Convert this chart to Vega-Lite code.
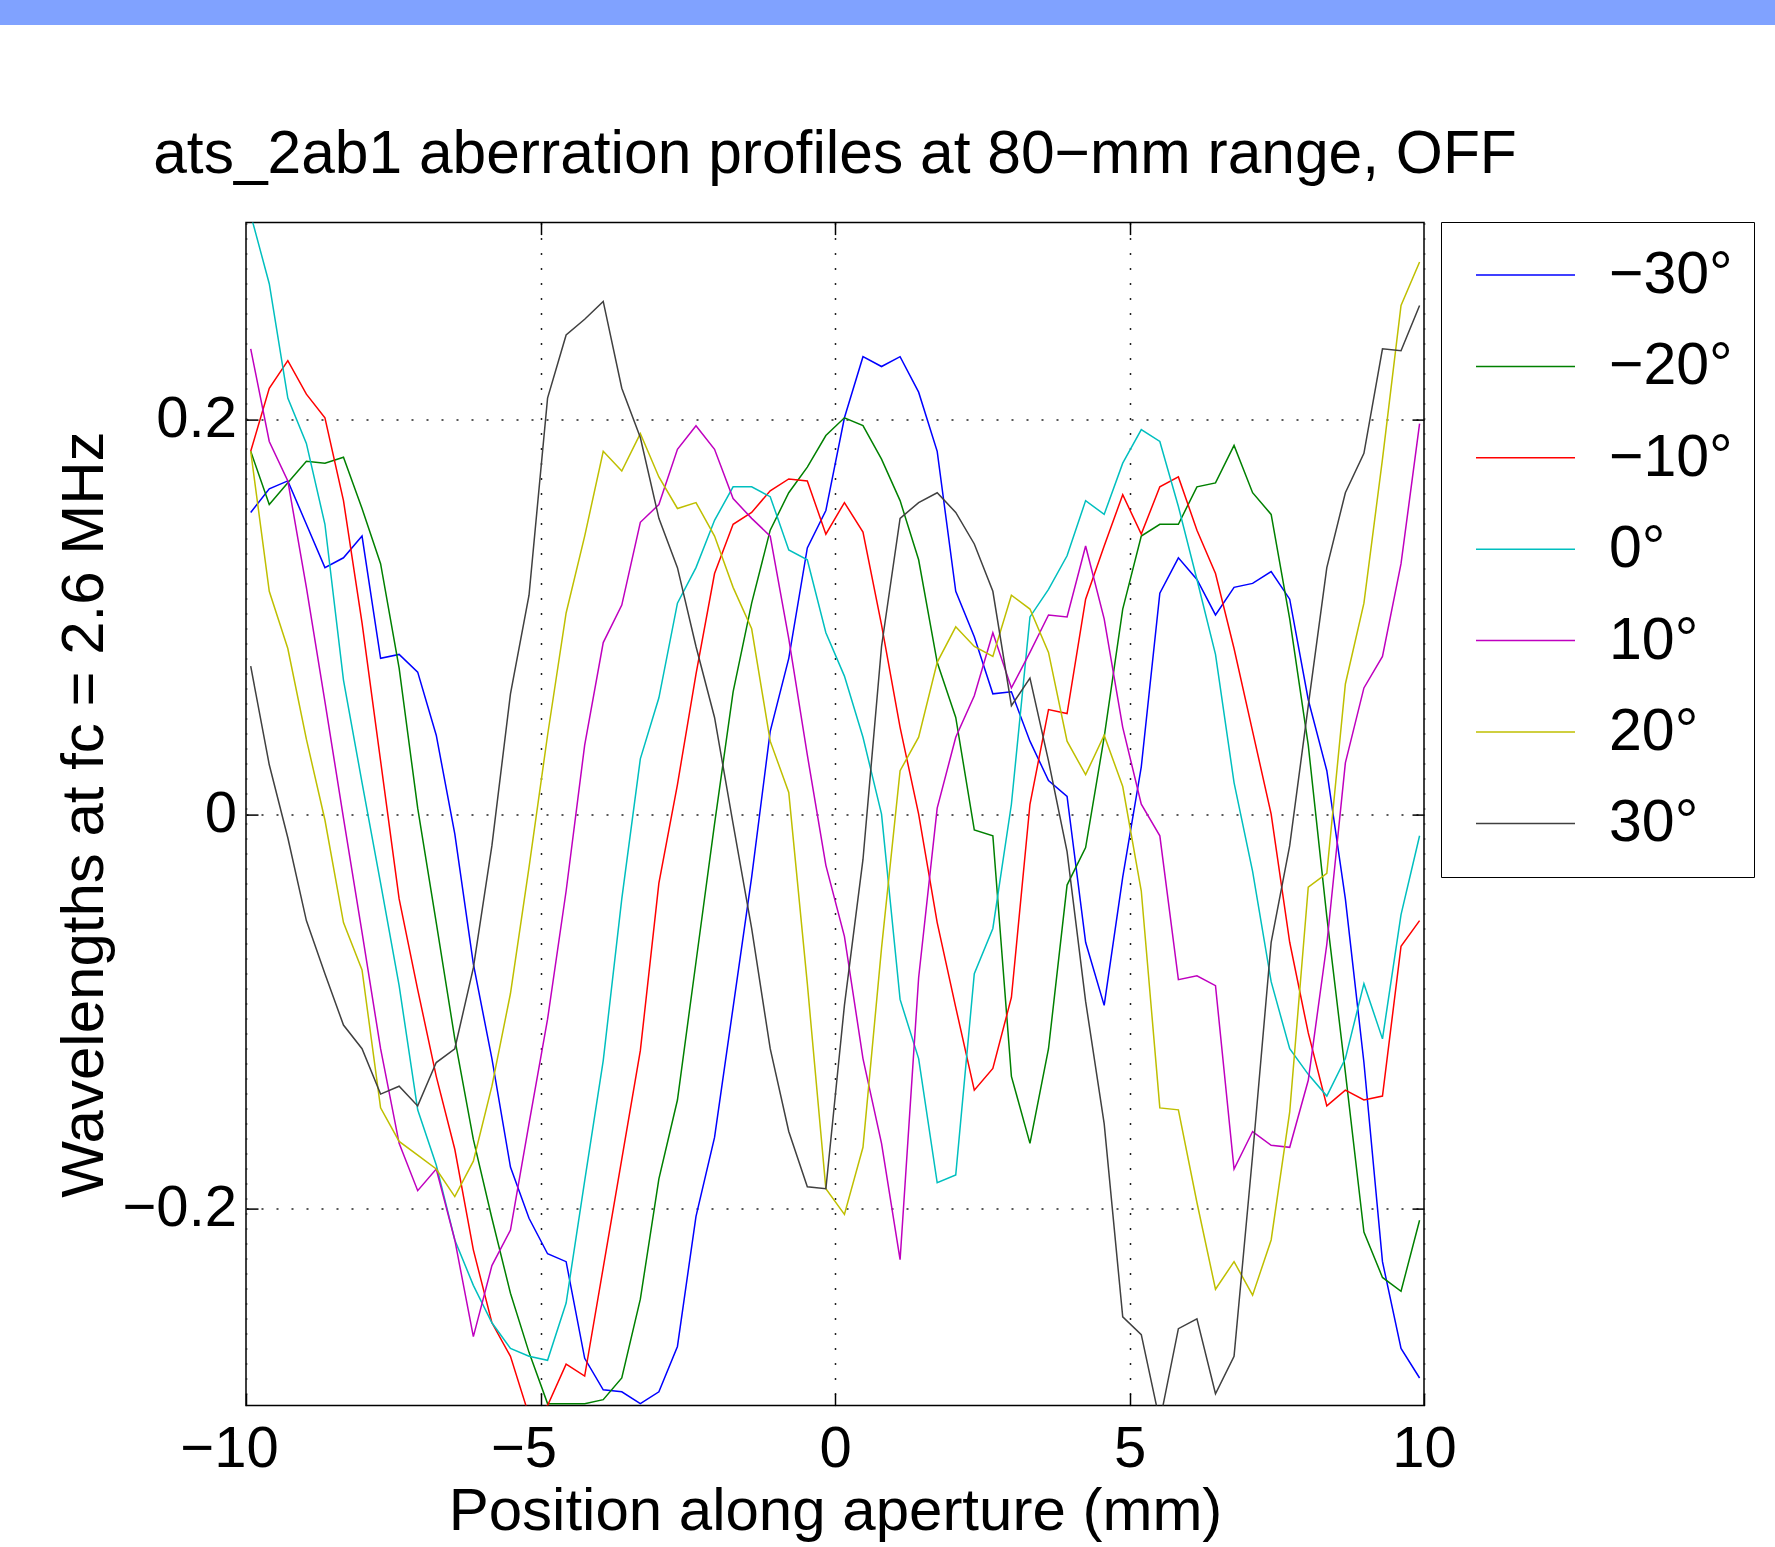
{
"$schema": "https://vega.github.io/schema/vega-lite/v6.json",
"background": "white",
"padding": 0,
"spacing": 99.6,
"config": {
 "view": {"stroke": null},
 "font": "Liberation Sans",
 "axis": {"labelFont": "Liberation Sans", "titleFont": "Liberation Sans", "labelColor": "#000", "titleColor": "#000", "tickColor": "#000", "labelFontSize": 58, "titleFontSize": 60, "titleFontWeight": "normal", "tickSize": -12, "tickWidth": 1.5, "domain": false, "gridColor": "#222", "gridDash": [2, 13], "gridWidth": 1.5, "gridOpacity": 1, "labelFlush": false, "labelOverlap": false}
},
"vconcat": [
 {"width": 1775, "height": 25, "data": {"values": [{}]}, "mark": {"type": "text"}, "encoding": {"text": {"value": ""}}, "view": {"fill": "#80a2ff", "stroke": null}},
 {"spacing": 0, "hconcat": [
  {"width": 52.4, "height": 10, "data": {"values": [{}]}, "mark": {"type": "text"}, "encoding": {"text": {"value": ""}}},
  {
   "width": 1178, "height": 1183,
   "view": {"stroke": "#000", "strokeWidth": 1.5},
   "title": {"text": "ats_2ab1 aberration profiles at 80−mm range, OFF", "fontSize": 60.5, "font": "Liberation Sans", "fontWeight": "normal", "color": "#000", "anchor": "middle", "frame": "group", "baseline": "alphabetic", "offset": -21.9},
   "data": {"values": [
{"s":"−30°","x":-9.92,"y":0.153},{"s":"−30°","x":-9.605,"y":0.165},{"s":"−30°","x":-9.29,"y":0.169},{"s":"−30°","x":-8.975,"y":0.147},{"s":"−30°","x":-8.66,"y":0.125},{"s":"−30°","x":-8.345,"y":0.130},{"s":"−30°","x":-8.03,"y":0.141},{"s":"−30°","x":-7.715,"y":0.079},{"s":"−30°","x":-7.4,"y":0.081},{"s":"−30°","x":-7.085,"y":0.072},{"s":"−30°","x":-6.77,"y":0.040},{"s":"−30°","x":-6.455,"y":-0.010},{"s":"−30°","x":-6.14,"y":-0.076},{"s":"−30°","x":-5.825,"y":-0.124},{"s":"−30°","x":-5.51,"y":-0.179},{"s":"−30°","x":-5.195,"y":-0.205},{"s":"−30°","x":-4.88,"y":-0.223},{"s":"−30°","x":-4.565,"y":-0.227},{"s":"−30°","x":-4.25,"y":-0.276},{"s":"−30°","x":-3.935,"y":-0.292},{"s":"−30°","x":-3.62,"y":-0.293},{"s":"−30°","x":-3.305,"y":-0.299},{"s":"−30°","x":-2.99,"y":-0.293},{"s":"−30°","x":-2.675,"y":-0.270},{"s":"−30°","x":-2.36,"y":-0.204},{"s":"−30°","x":-2.045,"y":-0.164},{"s":"−30°","x":-1.73,"y":-0.098},{"s":"−30°","x":-1.415,"y":-0.032},{"s":"−30°","x":-1.1,"y":0.042},{"s":"−30°","x":-0.785,"y":0.079},{"s":"−30°","x":-0.47,"y":0.135},{"s":"−30°","x":-0.155,"y":0.154},{"s":"−30°","x":0.16,"y":0.201},{"s":"−30°","x":0.475,"y":0.232},{"s":"−30°","x":0.79,"y":0.227},{"s":"−30°","x":1.105,"y":0.232},{"s":"−30°","x":1.42,"y":0.214},{"s":"−30°","x":1.735,"y":0.184},{"s":"−30°","x":2.05,"y":0.113},{"s":"−30°","x":2.365,"y":0.090},{"s":"−30°","x":2.68,"y":0.061},{"s":"−30°","x":2.995,"y":0.062},{"s":"−30°","x":3.31,"y":0.037},{"s":"−30°","x":3.625,"y":0.017},{"s":"−30°","x":3.94,"y":0.009},{"s":"−30°","x":4.255,"y":-0.065},{"s":"−30°","x":4.57,"y":-0.097},{"s":"−30°","x":4.885,"y":-0.032},{"s":"−30°","x":5.2,"y":0.024},{"s":"−30°","x":5.515,"y":0.112},{"s":"−30°","x":5.83,"y":0.130},{"s":"−30°","x":6.145,"y":0.119},{"s":"−30°","x":6.46,"y":0.101},{"s":"−30°","x":6.775,"y":0.115},{"s":"−30°","x":7.09,"y":0.117},{"s":"−30°","x":7.405,"y":0.123},{"s":"−30°","x":7.72,"y":0.109},{"s":"−30°","x":8.035,"y":0.058},{"s":"−30°","x":8.35,"y":0.022},{"s":"−30°","x":8.665,"y":-0.043},{"s":"−30°","x":8.98,"y":-0.126},{"s":"−30°","x":9.295,"y":-0.227},{"s":"−30°","x":9.61,"y":-0.271},{"s":"−30°","x":9.925,"y":-0.286},
{"s":"−20°","x":-9.92,"y":0.184},{"s":"−20°","x":-9.605,"y":0.157},{"s":"−20°","x":-9.29,"y":0.168},{"s":"−20°","x":-8.975,"y":0.179},{"s":"−20°","x":-8.66,"y":0.178},{"s":"−20°","x":-8.345,"y":0.181},{"s":"−20°","x":-8.03,"y":0.155},{"s":"−20°","x":-7.715,"y":0.127},{"s":"−20°","x":-7.4,"y":0.074},{"s":"−20°","x":-7.085,"y":0.003},{"s":"−20°","x":-6.77,"y":-0.055},{"s":"−20°","x":-6.455,"y":-0.114},{"s":"−20°","x":-6.14,"y":-0.165},{"s":"−20°","x":-5.825,"y":-0.205},{"s":"−20°","x":-5.51,"y":-0.243},{"s":"−20°","x":-5.195,"y":-0.273},{"s":"−20°","x":-4.88,"y":-0.299},{"s":"−20°","x":-4.565,"y":-0.299},{"s":"−20°","x":-4.25,"y":-0.299},{"s":"−20°","x":-3.935,"y":-0.297},{"s":"−20°","x":-3.62,"y":-0.286},{"s":"−20°","x":-3.305,"y":-0.246},{"s":"−20°","x":-2.99,"y":-0.185},{"s":"−20°","x":-2.675,"y":-0.145},{"s":"−20°","x":-2.36,"y":-0.075},{"s":"−20°","x":-2.045,"y":-0.005},{"s":"−20°","x":-1.73,"y":0.062},{"s":"−20°","x":-1.415,"y":0.107},{"s":"−20°","x":-1.1,"y":0.144},{"s":"−20°","x":-0.785,"y":0.163},{"s":"−20°","x":-0.47,"y":0.176},{"s":"−20°","x":-0.155,"y":0.192},{"s":"−20°","x":0.16,"y":0.201},{"s":"−20°","x":0.475,"y":0.197},{"s":"−20°","x":0.79,"y":0.180},{"s":"−20°","x":1.105,"y":0.159},{"s":"−20°","x":1.42,"y":0.129},{"s":"−20°","x":1.735,"y":0.077},{"s":"−20°","x":2.05,"y":0.049},{"s":"−20°","x":2.365,"y":-0.008},{"s":"−20°","x":2.68,"y":-0.011},{"s":"−20°","x":2.995,"y":-0.133},{"s":"−20°","x":3.31,"y":-0.167},{"s":"−20°","x":3.625,"y":-0.119},{"s":"−20°","x":3.94,"y":-0.036},{"s":"−20°","x":4.255,"y":-0.017},{"s":"−20°","x":4.57,"y":0.039},{"s":"−20°","x":4.885,"y":0.104},{"s":"−20°","x":5.2,"y":0.141},{"s":"−20°","x":5.515,"y":0.147},{"s":"−20°","x":5.83,"y":0.147},{"s":"−20°","x":6.145,"y":0.166},{"s":"−20°","x":6.46,"y":0.168},{"s":"−20°","x":6.775,"y":0.187},{"s":"−20°","x":7.09,"y":0.163},{"s":"−20°","x":7.405,"y":0.152},{"s":"−20°","x":7.72,"y":0.099},{"s":"−20°","x":8.035,"y":0.035},{"s":"−20°","x":8.35,"y":-0.052},{"s":"−20°","x":8.665,"y":-0.131},{"s":"−20°","x":8.98,"y":-0.212},{"s":"−20°","x":9.295,"y":-0.235},{"s":"−20°","x":9.61,"y":-0.242},{"s":"−20°","x":9.925,"y":-0.206},
{"s":"−10°","x":-9.92,"y":0.184},{"s":"−10°","x":-9.605,"y":0.216},{"s":"−10°","x":-9.29,"y":0.230},{"s":"−10°","x":-8.975,"y":0.213},{"s":"−10°","x":-8.66,"y":0.201},{"s":"−10°","x":-8.345,"y":0.159},{"s":"−10°","x":-8.03,"y":0.097},{"s":"−10°","x":-7.715,"y":0.027},{"s":"−10°","x":-7.4,"y":-0.043},{"s":"−10°","x":-7.085,"y":-0.089},{"s":"−10°","x":-6.77,"y":-0.133},{"s":"−10°","x":-6.455,"y":-0.170},{"s":"−10°","x":-6.14,"y":-0.221},{"s":"−10°","x":-5.825,"y":-0.258},{"s":"−10°","x":-5.51,"y":-0.275},{"s":"−10°","x":-5.195,"y":-0.305},{"s":"−10°","x":-4.88,"y":-0.300},{"s":"−10°","x":-4.565,"y":-0.279},{"s":"−10°","x":-4.25,"y":-0.285},{"s":"−10°","x":-3.935,"y":-0.230},{"s":"−10°","x":-3.62,"y":-0.175},{"s":"−10°","x":-3.305,"y":-0.120},{"s":"−10°","x":-2.99,"y":-0.035},{"s":"−10°","x":-2.675,"y":0.015},{"s":"−10°","x":-2.36,"y":0.071},{"s":"−10°","x":-2.045,"y":0.122},{"s":"−10°","x":-1.73,"y":0.147},{"s":"−10°","x":-1.415,"y":0.153},{"s":"−10°","x":-1.1,"y":0.164},{"s":"−10°","x":-0.785,"y":0.170},{"s":"−10°","x":-0.47,"y":0.169},{"s":"−10°","x":-0.155,"y":0.142},{"s":"−10°","x":0.16,"y":0.158},{"s":"−10°","x":0.475,"y":0.143},{"s":"−10°","x":0.79,"y":0.096},{"s":"−10°","x":1.105,"y":0.044},{"s":"−10°","x":1.42,"y":0.000},{"s":"−10°","x":1.735,"y":-0.055},{"s":"−10°","x":2.05,"y":-0.098},{"s":"−10°","x":2.365,"y":-0.140},{"s":"−10°","x":2.68,"y":-0.129},{"s":"−10°","x":2.995,"y":-0.093},{"s":"−10°","x":3.31,"y":0.005},{"s":"−10°","x":3.625,"y":0.053},{"s":"−10°","x":3.94,"y":0.051},{"s":"−10°","x":4.255,"y":0.109},{"s":"−10°","x":4.57,"y":0.136},{"s":"−10°","x":4.885,"y":0.162},{"s":"−10°","x":5.2,"y":0.142},{"s":"−10°","x":5.515,"y":0.166},{"s":"−10°","x":5.83,"y":0.171},{"s":"−10°","x":6.145,"y":0.144},{"s":"−10°","x":6.46,"y":0.122},{"s":"−10°","x":6.775,"y":0.084},{"s":"−10°","x":7.09,"y":0.042},{"s":"−10°","x":7.405,"y":0.000},{"s":"−10°","x":7.72,"y":-0.065},{"s":"−10°","x":8.035,"y":-0.111},{"s":"−10°","x":8.35,"y":-0.148},{"s":"−10°","x":8.665,"y":-0.140},{"s":"−10°","x":8.98,"y":-0.145},{"s":"−10°","x":9.295,"y":-0.143},{"s":"−10°","x":9.61,"y":-0.067},{"s":"−10°","x":9.925,"y":-0.054},
{"s":"0°","x":-9.92,"y":0.304},{"s":"0°","x":-9.605,"y":0.269},{"s":"0°","x":-9.29,"y":0.211},{"s":"0°","x":-8.975,"y":0.188},{"s":"0°","x":-8.66,"y":0.147},{"s":"0°","x":-8.345,"y":0.068},{"s":"0°","x":-8.03,"y":0.016},{"s":"0°","x":-7.715,"y":-0.035},{"s":"0°","x":-7.4,"y":-0.087},{"s":"0°","x":-7.085,"y":-0.150},{"s":"0°","x":-6.77,"y":-0.178},{"s":"0°","x":-6.455,"y":-0.216},{"s":"0°","x":-6.14,"y":-0.239},{"s":"0°","x":-5.825,"y":-0.258},{"s":"0°","x":-5.51,"y":-0.271},{"s":"0°","x":-5.195,"y":-0.275},{"s":"0°","x":-4.88,"y":-0.277},{"s":"0°","x":-4.565,"y":-0.248},{"s":"0°","x":-4.25,"y":-0.186},{"s":"0°","x":-3.935,"y":-0.125},{"s":"0°","x":-3.62,"y":-0.043},{"s":"0°","x":-3.305,"y":0.028},{"s":"0°","x":-2.99,"y":0.059},{"s":"0°","x":-2.675,"y":0.107},{"s":"0°","x":-2.36,"y":0.125},{"s":"0°","x":-2.045,"y":0.149},{"s":"0°","x":-1.73,"y":0.166},{"s":"0°","x":-1.415,"y":0.166},{"s":"0°","x":-1.1,"y":0.161},{"s":"0°","x":-0.785,"y":0.134},{"s":"0°","x":-0.47,"y":0.129},{"s":"0°","x":-0.155,"y":0.092},{"s":"0°","x":0.16,"y":0.070},{"s":"0°","x":0.475,"y":0.039},{"s":"0°","x":0.79,"y":0.000},{"s":"0°","x":1.105,"y":-0.094},{"s":"0°","x":1.42,"y":-0.124},{"s":"0°","x":1.735,"y":-0.187},{"s":"0°","x":2.05,"y":-0.183},{"s":"0°","x":2.365,"y":-0.081},{"s":"0°","x":2.68,"y":-0.058},{"s":"0°","x":2.995,"y":0.005},{"s":"0°","x":3.31,"y":0.100},{"s":"0°","x":3.625,"y":0.114},{"s":"0°","x":3.94,"y":0.131},{"s":"0°","x":4.255,"y":0.159},{"s":"0°","x":4.57,"y":0.152},{"s":"0°","x":4.885,"y":0.178},{"s":"0°","x":5.2,"y":0.195},{"s":"0°","x":5.515,"y":0.189},{"s":"0°","x":5.83,"y":0.156},{"s":"0°","x":6.145,"y":0.119},{"s":"0°","x":6.46,"y":0.081},{"s":"0°","x":6.775,"y":0.016},{"s":"0°","x":7.09,"y":-0.029},{"s":"0°","x":7.405,"y":-0.085},{"s":"0°","x":7.72,"y":-0.119},{"s":"0°","x":8.035,"y":-0.132},{"s":"0°","x":8.35,"y":-0.143},{"s":"0°","x":8.665,"y":-0.124},{"s":"0°","x":8.98,"y":-0.086},{"s":"0°","x":9.295,"y":-0.114},{"s":"0°","x":9.61,"y":-0.051},{"s":"0°","x":9.925,"y":-0.011},
{"s":"10°","x":-9.92,"y":0.236},{"s":"10°","x":-9.605,"y":0.189},{"s":"10°","x":-9.29,"y":0.169},{"s":"10°","x":-8.975,"y":0.115},{"s":"10°","x":-8.66,"y":0.057},{"s":"10°","x":-8.345,"y":-0.002},{"s":"10°","x":-8.03,"y":-0.060},{"s":"10°","x":-7.715,"y":-0.119},{"s":"10°","x":-7.4,"y":-0.167},{"s":"10°","x":-7.085,"y":-0.191},{"s":"10°","x":-6.77,"y":-0.180},{"s":"10°","x":-6.455,"y":-0.216},{"s":"10°","x":-6.14,"y":-0.265},{"s":"10°","x":-5.825,"y":-0.229},{"s":"10°","x":-5.51,"y":-0.211},{"s":"10°","x":-5.195,"y":-0.157},{"s":"10°","x":-4.88,"y":-0.104},{"s":"10°","x":-4.565,"y":-0.039},{"s":"10°","x":-4.25,"y":0.035},{"s":"10°","x":-3.935,"y":0.087},{"s":"10°","x":-3.62,"y":0.106},{"s":"10°","x":-3.305,"y":0.148},{"s":"10°","x":-2.99,"y":0.157},{"s":"10°","x":-2.675,"y":0.185},{"s":"10°","x":-2.36,"y":0.197},{"s":"10°","x":-2.045,"y":0.185},{"s":"10°","x":-1.73,"y":0.160},{"s":"10°","x":-1.415,"y":0.150},{"s":"10°","x":-1.1,"y":0.141},{"s":"10°","x":-0.785,"y":0.089},{"s":"10°","x":-0.47,"y":0.030},{"s":"10°","x":-0.155,"y":-0.026},{"s":"10°","x":0.16,"y":-0.062},{"s":"10°","x":0.475,"y":-0.124},{"s":"10°","x":0.79,"y":-0.167},{"s":"10°","x":1.105,"y":-0.226},{"s":"10°","x":1.42,"y":-0.083},{"s":"10°","x":1.735,"y":0.003},{"s":"10°","x":2.05,"y":0.039},{"s":"10°","x":2.365,"y":0.060},{"s":"10°","x":2.68,"y":0.092},{"s":"10°","x":2.995,"y":0.064},{"s":"10°","x":3.31,"y":0.082},{"s":"10°","x":3.625,"y":0.101},{"s":"10°","x":3.94,"y":0.100},{"s":"10°","x":4.255,"y":0.136},{"s":"10°","x":4.57,"y":0.099},{"s":"10°","x":4.885,"y":0.044},{"s":"10°","x":5.2,"y":0.005},{"s":"10°","x":5.515,"y":-0.011},{"s":"10°","x":5.83,"y":-0.084},{"s":"10°","x":6.145,"y":-0.082},{"s":"10°","x":6.46,"y":-0.087},{"s":"10°","x":6.775,"y":-0.180},{"s":"10°","x":7.09,"y":-0.161},{"s":"10°","x":7.405,"y":-0.168},{"s":"10°","x":7.72,"y":-0.169},{"s":"10°","x":8.035,"y":-0.135},{"s":"10°","x":8.35,"y":-0.066},{"s":"10°","x":8.665,"y":0.026},{"s":"10°","x":8.98,"y":0.064},{"s":"10°","x":9.295,"y":0.080},{"s":"10°","x":9.61,"y":0.127},{"s":"10°","x":9.925,"y":0.198},
{"s":"20°","x":-9.92,"y":0.184},{"s":"20°","x":-9.605,"y":0.113},{"s":"20°","x":-9.29,"y":0.084},{"s":"20°","x":-8.975,"y":0.038},{"s":"20°","x":-8.66,"y":-0.003},{"s":"20°","x":-8.345,"y":-0.055},{"s":"20°","x":-8.03,"y":-0.079},{"s":"20°","x":-7.715,"y":-0.149},{"s":"20°","x":-7.4,"y":-0.166},{"s":"20°","x":-7.085,"y":-0.173},{"s":"20°","x":-6.77,"y":-0.180},{"s":"20°","x":-6.455,"y":-0.194},{"s":"20°","x":-6.14,"y":-0.176},{"s":"20°","x":-5.825,"y":-0.138},{"s":"20°","x":-5.51,"y":-0.091},{"s":"20°","x":-5.195,"y":-0.027},{"s":"20°","x":-4.88,"y":0.040},{"s":"20°","x":-4.565,"y":0.102},{"s":"20°","x":-4.25,"y":0.141},{"s":"20°","x":-3.935,"y":0.184},{"s":"20°","x":-3.62,"y":0.174},{"s":"20°","x":-3.305,"y":0.193},{"s":"20°","x":-2.99,"y":0.171},{"s":"20°","x":-2.675,"y":0.155},{"s":"20°","x":-2.36,"y":0.158},{"s":"20°","x":-2.045,"y":0.141},{"s":"20°","x":-1.73,"y":0.115},{"s":"20°","x":-1.415,"y":0.094},{"s":"20°","x":-1.1,"y":0.037},{"s":"20°","x":-0.785,"y":0.011},{"s":"20°","x":-0.47,"y":-0.086},{"s":"20°","x":-0.155,"y":-0.190},{"s":"20°","x":0.16,"y":-0.203},{"s":"20°","x":0.475,"y":-0.169},{"s":"20°","x":0.79,"y":-0.068},{"s":"20°","x":1.105,"y":0.022},{"s":"20°","x":1.42,"y":0.039},{"s":"20°","x":1.735,"y":0.077},{"s":"20°","x":2.05,"y":0.095},{"s":"20°","x":2.365,"y":0.085},{"s":"20°","x":2.68,"y":0.080},{"s":"20°","x":2.995,"y":0.111},{"s":"20°","x":3.31,"y":0.104},{"s":"20°","x":3.625,"y":0.082},{"s":"20°","x":3.94,"y":0.037},{"s":"20°","x":4.255,"y":0.020},{"s":"20°","x":4.57,"y":0.040},{"s":"20°","x":4.885,"y":0.014},{"s":"20°","x":5.2,"y":-0.039},{"s":"20°","x":5.515,"y":-0.149},{"s":"20°","x":5.83,"y":-0.150},{"s":"20°","x":6.145,"y":-0.197},{"s":"20°","x":6.46,"y":-0.241},{"s":"20°","x":6.775,"y":-0.227},{"s":"20°","x":7.09,"y":-0.244},{"s":"20°","x":7.405,"y":-0.216},{"s":"20°","x":7.72,"y":-0.151},{"s":"20°","x":8.035,"y":-0.037},{"s":"20°","x":8.35,"y":-0.030},{"s":"20°","x":8.665,"y":0.066},{"s":"20°","x":8.98,"y":0.107},{"s":"20°","x":9.295,"y":0.180},{"s":"20°","x":9.61,"y":0.258},{"s":"20°","x":9.925,"y":0.280},
{"s":"30°","x":-9.92,"y":0.075},{"s":"30°","x":-9.605,"y":0.025},{"s":"30°","x":-9.29,"y":-0.012},{"s":"30°","x":-8.975,"y":-0.054},{"s":"30°","x":-8.66,"y":-0.081},{"s":"30°","x":-8.345,"y":-0.107},{"s":"30°","x":-8.03,"y":-0.119},{"s":"30°","x":-7.715,"y":-0.142},{"s":"30°","x":-7.4,"y":-0.138},{"s":"30°","x":-7.085,"y":-0.148},{"s":"30°","x":-6.77,"y":-0.126},{"s":"30°","x":-6.455,"y":-0.119},{"s":"30°","x":-6.14,"y":-0.078},{"s":"30°","x":-5.825,"y":-0.016},{"s":"30°","x":-5.51,"y":0.061},{"s":"30°","x":-5.195,"y":0.111},{"s":"30°","x":-4.88,"y":0.211},{"s":"30°","x":-4.565,"y":0.243},{"s":"30°","x":-4.25,"y":0.251},{"s":"30°","x":-3.935,"y":0.260},{"s":"30°","x":-3.62,"y":0.216},{"s":"30°","x":-3.305,"y":0.191},{"s":"30°","x":-2.99,"y":0.150},{"s":"30°","x":-2.675,"y":0.125},{"s":"30°","x":-2.36,"y":0.085},{"s":"30°","x":-2.045,"y":0.049},{"s":"30°","x":-1.73,"y":-0.005},{"s":"30°","x":-1.415,"y":-0.058},{"s":"30°","x":-1.1,"y":-0.119},{"s":"30°","x":-0.785,"y":-0.161},{"s":"30°","x":-0.47,"y":-0.189},{"s":"30°","x":-0.155,"y":-0.190},{"s":"30°","x":0.16,"y":-0.097},{"s":"30°","x":0.475,"y":-0.023},{"s":"30°","x":0.79,"y":0.085},{"s":"30°","x":1.105,"y":0.150},{"s":"30°","x":1.42,"y":0.158},{"s":"30°","x":1.735,"y":0.163},{"s":"30°","x":2.05,"y":0.153},{"s":"30°","x":2.365,"y":0.137},{"s":"30°","x":2.68,"y":0.113},{"s":"30°","x":2.995,"y":0.055},{"s":"30°","x":3.31,"y":0.069},{"s":"30°","x":3.625,"y":0.027},{"s":"30°","x":3.94,"y":-0.019},{"s":"30°","x":4.255,"y":-0.095},{"s":"30°","x":4.57,"y":-0.157},{"s":"30°","x":4.885,"y":-0.255},{"s":"30°","x":5.2,"y":-0.264},{"s":"30°","x":5.515,"y":-0.308},{"s":"30°","x":5.83,"y":-0.261},{"s":"30°","x":6.145,"y":-0.256},{"s":"30°","x":6.46,"y":-0.294},{"s":"30°","x":6.775,"y":-0.275},{"s":"30°","x":7.09,"y":-0.173},{"s":"30°","x":7.405,"y":-0.065},{"s":"30°","x":7.72,"y":-0.016},{"s":"30°","x":8.035,"y":0.055},{"s":"30°","x":8.35,"y":0.125},{"s":"30°","x":8.665,"y":0.163},{"s":"30°","x":8.98,"y":0.183},{"s":"30°","x":9.295,"y":0.236},{"s":"30°","x":9.61,"y":0.235},{"s":"30°","x":9.925,"y":0.258}
   ]},
   "resolve": {"axis": {"x": "independent", "y": "independent"}},
   "layer": [
    {
     "mark": {"type": "line", "strokeWidth": 1.5, "clip": true},
     "encoding": {
      "x": {"field": "x", "type": "quantitative", "scale": {"domain": [-10, 10], "nice": false, "zero": false},
            "axis": {"values": [-10, -5, 0, 5, 10], "format": "d", "title": "Position along aperture (mm)", "labelPadding": 27, "titlePadding": 4, "grid": true,
                     "labelOffset": {"condition": {"test": "datum.value < 0", "value": -17}, "value": 0}}},
      "y": {"field": "y", "type": "quantitative", "scale": {"domain": [-0.3, 0.3], "nice": false, "zero": false},
            "axis": {"values": [-0.2, 0, 0.2], "format": "~g", "title": "Wavelengths at fc = 2.6 MHz", "labelPadding": 21.5, "titlePadding": 6.5, "grid": true}},
      "color": {"field": "s", "type": "nominal",
                "scale": {"domain": ["−30°", "−20°", "−10°", "0°", "10°", "20°", "30°"], "range": ["#0000ff", "#008000", "#ff0000", "#00bfbf", "#bf00bf", "#bfbf00", "#404040"]},
                "legend": {"orient": "none", "legendX": 1441, "legendY": 222, "title": null, "symbolType": "stroke", "symbolSize": 9801, "symbolStrokeWidth": 1.5, "labelFontSize": 59, "labelFont": "Liberation Sans", "labelColor": "#000", "labelOffset": 33, "symbolOffset": 13, "clipHeight": 64, "rowPadding": 27.4, "padding": 21, "strokeColor": "#000", "fillColor": "#fff", "labelLimit": 400, "labelExpr": "datum.label + '\u2009'"}}
     }
    },
    {
     "mark": {"type": "point", "opacity": 0},
     "encoding": {
      "x": {"field": "x", "type": "quantitative", "axis": {"orient": "top", "labels": false, "title": null, "grid": false, "values": [-5, 0, 5]}},
      "y": {"field": "y", "type": "quantitative", "axis": {"orient": "right", "labels": false, "title": null, "grid": false, "values": [-0.2, 0, 0.2]}}
     }
    }
   ]
  }
 ]}
]
}
